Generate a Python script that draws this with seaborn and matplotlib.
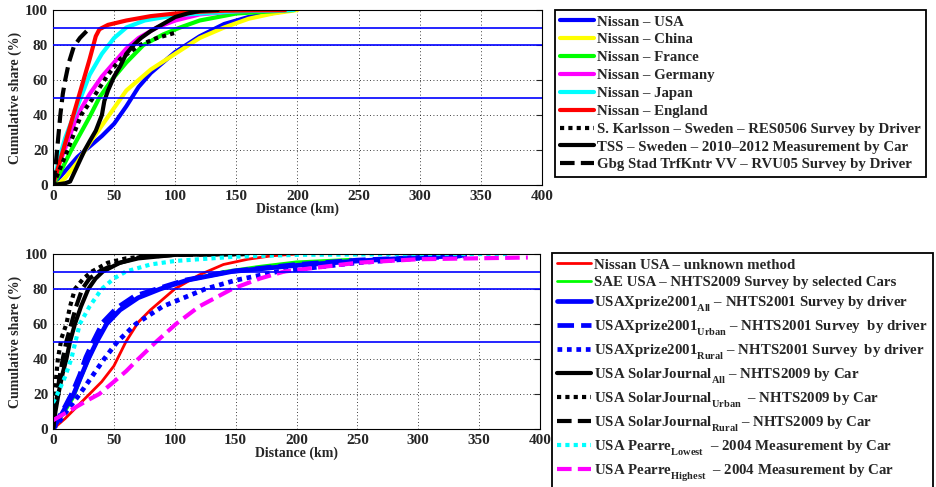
import numpy as np
import pandas as pd
import matplotlib
matplotlib.use("Agg")
import matplotlib.pyplot as plt
from matplotlib.ticker import MultipleLocator
import seaborn as sns

# ---- top panel data (distance km, cumulative share %) ----
usa_km = [0, 5, 10, 20, 30, 40, 50, 60, 70, 80, 100, 120, 140, 160, 195]
usa_pct = [0, 4, 8, 16, 22, 28, 35, 45, 56, 64, 76, 85, 92, 96, 100]
china_km = [0, 5, 10, 20, 30, 40, 50, 60, 80, 100, 120, 140, 160, 180, 200]
china_pct = [0, 1, 4, 13, 24, 34, 44, 54, 66, 75, 84, 90, 95, 98, 100]
france_km = [0, 5, 10, 15, 30, 38, 48, 60, 74, 90, 104, 120, 150, 197]
france_pct = [0, 6, 13, 20, 39, 50, 60, 70, 80, 86, 90, 94, 98, 100]
germany_km = [0, 5, 10, 20, 30, 40, 50, 60, 70, 85, 100, 120, 150, 195]
germany_pct = [0, 12, 21, 40, 52, 62, 70, 78, 84, 90, 94, 97.5, 99.3, 100]
japan_km = [0, 5, 10, 20, 30, 40, 50, 60, 75, 100, 150, 197]
japan_pct = [0, 15, 27, 45, 63, 75, 84, 90, 94, 97, 99.3, 100]
england_km = [0, 5, 10, 20, 30, 35, 38, 45, 60, 80, 100, 120, 140, 190]
england_pct = [0, 12, 24, 48, 72, 85, 89, 91.5, 94, 96.5, 98, 99, 99.6, 100]
karlsson_km = [0, 5, 12, 23, 33, 44, 55, 65, 71, 85, 100]
karlsson_pct = [0, 8, 20, 40, 50, 62, 72, 77, 80, 84, 87]
tss_km = [0, 5, 10, 14, 18, 22, 26, 30, 35, 40, 42, 45, 50, 55, 60, 66, 72,
          80, 90, 100, 110, 120, 135]
tss_pct = [0, 0.5, 1, 2, 8, 14, 20, 25, 31, 40, 48, 54, 62, 68, 75, 80, 84,
           88, 92, 96, 98, 99.5, 100]
gbg_km = [0, 2, 4, 6, 8, 10, 13, 17, 22, 29]
gbg_pct = [0, 10, 25, 40, 52, 60, 70, 79, 84, 89]

top_labels = ["Nissan \u2013 USA", "Nissan \u2013 China", "Nissan \u2013 France",
              "Nissan \u2013 Germany", "Nissan \u2013 Japan", "Nissan \u2013 England",
              "S. Karlsson \u2013 Sweden \u2013 RES0506 Survey by Driver",
              "TSS \u2013 Sweden \u2013 2010\u20132012 Measurement by Car",
              "Gbg Stad TrfKntr VV \u2013 RVU05 Survey by Driver"]

# ---- bottom panel data ----
nissan_usa_km = [0, 10, 20, 30, 40, 50, 60, 70, 80, 100, 120, 140, 160, 180, 200]
nissan_usa_pct = [0, 6, 13, 20, 27, 36, 50, 61, 68, 80, 88, 94, 97, 99, 100]
sae_km = [0, 5, 10, 17, 23, 29, 36, 44, 55, 70, 88, 110, 140, 170, 200, 245]
sae_pct = [0, 5, 10, 18, 29, 39, 50, 60, 68, 75, 80, 85, 90, 93, 95.5, 97]
xp_all_km = [0, 5, 10, 17, 23, 29, 36, 44, 55, 70, 88, 110, 147, 200, 250, 300, 335]
xp_all_pct = [0, 6, 12, 20, 30, 40, 50, 60, 68, 75, 80, 85, 90, 93.5, 96, 98, 99]
xp_urban_km = [0, 5, 10, 16, 22, 27, 33, 41, 52, 67, 85, 108, 145, 200, 250, 300, 335]
xp_urban_pct = [0, 7, 13, 21, 31, 41, 50, 61, 69, 76, 80, 85, 90, 94, 96.5, 98, 99]
xp_rural_km = [0, 5, 10, 22, 32, 42, 53, 68, 90, 125, 150, 185, 250, 300, 340]
xp_rural_pct = [0, 4, 9, 20, 30, 40, 50, 60, 70, 80, 85, 90, 95, 97.5, 99]
sj_all_km = [0, 2, 5, 8, 11, 14, 18, 23, 29, 35, 41, 55, 70, 100, 160]
sj_all_pct = [0, 10, 22, 32, 40, 50, 60, 70, 80, 86, 90, 95, 97.5, 99.5, 100]
sj_urban_km = [0, 1, 2, 4, 7, 11, 14, 18, 25, 32, 45, 60, 80, 100, 160]
sj_urban_pct = [0, 15, 25, 40, 52, 60, 70, 80, 86, 90, 95, 97.5, 99, 99.8, 100]
sj_rural_km = [0, 2, 5, 8, 11, 15, 19, 24, 30, 38, 50, 70, 100, 160]
sj_rural_pct = [0, 12, 28, 40, 50, 60, 70, 80, 86, 90, 94, 98, 99.5, 100]
pearre_low_km = [0, 5, 10, 15, 22, 30, 40, 50, 60, 80, 100, 150, 200, 300, 375]
pearre_low_pct = [15, 22, 30, 40, 60, 70, 80, 86, 90, 94, 96, 98.5, 99.5, 100, 100]
pearre_high_km = [0, 10, 20, 30, 38, 50, 60, 70, 85, 101, 120, 147, 170, 190, 250, 300, 390]
pearre_high_pct = [5, 9, 13, 17, 20, 27, 33, 40, 50, 60, 70, 80, 86, 90, 95, 97, 98]

bottom_labels = [
    "Nissan USA \u2013 unknown method",
    "SAE USA \u2013 NHTS2009 Survey by selected Cars",
    "USAXprize2001$_{\\rm All}$ \u2013 NHTS2001 Survey by driver",
    "USAXprize2001$_{\\rm Urban}$ \u2013 NHTS2001 Survey  by driver",
    "USAXprize2001$_{\\rm Rural}$ \u2013 NHTS2001 Survey  by driver",
    "USA SolarJournal$_{\\rm All}$ \u2013 NHTS2009 by Car",
    "USA SolarJournal$_{\\rm Urban}$  \u2013 NHTS2009 by Car",
    "USA SolarJournal$_{\\rm Rural}$ \u2013 NHTS2009 by Car",
    "USA Pearre$_{\\rm Lowest}$  \u2013 2004 Measurement by Car",
    "USA Pearre$_{\\rm Highest}$  \u2013 2004 Measurement by Car",
]

ref_levels = [50, 80, 90]

sns.set_style("white")
plt.rcParams["font.family"] = ["Liberation Serif", "DejaVu Serif"]
plt.rcParams["font.weight"] = "bold"
plt.rcParams["mathtext.fontset"] = "custom"
plt.rcParams["mathtext.rm"] = "Liberation Serif:bold"
plt.rcParams["mathtext.it"] = "Liberation Serif:bold"
plt.rcParams["mathtext.bf"] = "Liberation Serif:bold"

# the subscripts in the original sit lower than matplotlib's default
try:
    import matplotlib._mathtext as _mt
    _mt.FontConstantsBase.sub1 = 0.8
except Exception:
    pass

DOT = (0, (1, 1))
DASH = (0, (3.5, 1.5))

top_series = [
    (usa_km, usa_pct, "#0000ff", "-", 3.0),
    (china_km, china_pct, "#ffff00", "-", 3.0),
    (france_km, france_pct, "#00ff00", "-", 3.0),
    (germany_km, germany_pct, "#ff00ff", "-", 3.0),
    (japan_km, japan_pct, "#00ffff", "-", 3.0),
    (england_km, england_pct, "#ff0000", "-", 3.0),
    (karlsson_km, karlsson_pct, "black", DOT, 3.0),
    (tss_km, tss_pct, "black", "-", 3.0),
    (gbg_km, gbg_pct, "black", DASH, 3.0),
]
bottom_series = [
    (nissan_usa_km, nissan_usa_pct, "#ff0000", "-", 2.0),
    (sae_km, sae_pct, "#00ff00", "-", 2.0),
    (xp_all_km, xp_all_pct, "#0000ff", "-", 3.4),
    (xp_urban_km, xp_urban_pct, "#0000ff", DASH, 3.4),
    (xp_rural_km, xp_rural_pct, "#0000ff", DOT, 3.4),
    (sj_all_km, sj_all_pct, "black", "-", 3.0),
    (sj_urban_km, sj_urban_pct, "black", DOT, 3.0),
    (sj_rural_km, sj_rural_pct, "black", DASH, 3.0),
    (pearre_low_km, pearre_low_pct, "#00ffff", DOT, 3.0),
    (pearre_high_km, pearre_high_pct, "#ff00ff", DASH, 3.0),
]

fig = plt.figure(figsize=(9.37, 4.87), dpi=100)
ax_top = fig.add_axes([53 / 937, 1 - 185 / 487, 489 / 937, 175 / 487])
ax_bot = fig.add_axes([53 / 937, 1 - 429 / 487, 487 / 937, 175 / 487])


def draw_panel(ax, series, labels, legend_anchor, spacing):
    for (km, pct, col, ls, lw), lab in zip(series, labels):
        df = pd.DataFrame({"km": km, "pct": pct})
        sns.lineplot(data=df, x="km", y="pct", ax=ax, color=col, lw=lw,
                     linestyle=ls, label=lab, sort=False, estimator=None)
    for lvl in ref_levels:
        ax.axhline(lvl, color="#0000ff", lw=1.2, zorder=5)
    ax.set_xlim(0, 400)
    ax.set_ylim(0, 100)
    ax.xaxis.set_major_locator(MultipleLocator(50))
    ax.xaxis.set_minor_locator(MultipleLocator(5))
    ax.yaxis.set_major_locator(MultipleLocator(20))
    ax.grid(True, which="major", color="black", ls=(0, (1, 3)), lw=0.6)
    ax.tick_params(which="both", direction="in", top=False, right=True,
                   labelsize=11, width=0.8)
    ax.tick_params(which="major", length=4)
    ax.tick_params(which="minor", length=2.5, left=False, right=False)
    for lab in ax.get_xticklabels() + ax.get_yticklabels():
        lab.set_fontweight("bold")
    for sp in ax.spines.values():
        sp.set_color("black")
        sp.set_linewidth(0.8)
    ax.set_xlabel("Distance (km)", fontsize=10, fontweight="bold", labelpad=0)
    ax.set_ylabel("Cumulative share (%)", fontsize=10, fontweight="bold", labelpad=2)
    leg = ax.legend(loc="upper left", bbox_to_anchor=legend_anchor,
                    bbox_transform=fig.transFigure,
                    prop={"family": "Liberation Serif", "weight": "bold", "size": 10.7},
                    handlelength=2.25, handletextpad=0.25, labelspacing=spacing,
                    borderpad=0.35, borderaxespad=0, fancybox=False, framealpha=1,
                    edgecolor="black")
    leg.get_frame().set_linewidth(1.3)


draw_panel(ax_top, top_series, top_labels, (555 / 937, 1 - 10 / 487), 0.3)
draw_panel(ax_bot, bottom_series, bottom_labels, (552 / 937, 1 - 253 / 487), 0.3)

fig.savefig("out.png", dpi=100)
